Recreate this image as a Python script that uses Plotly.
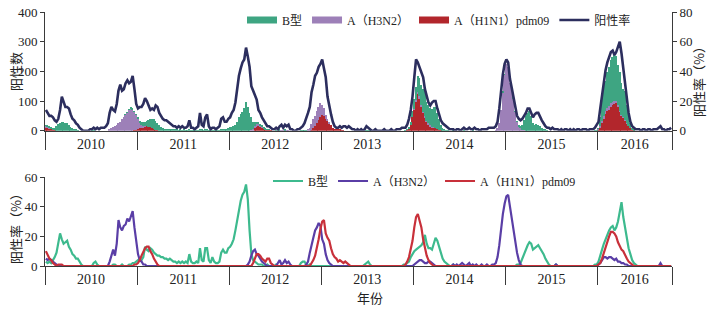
import plotly.graph_objects as go

# ---------------- data (weekly, 2010 week 1 .. 2016 week 42) ----------------
years = ["2010", "2011", "2012", "2013", "2014", "2015", "2016"]
weeks_per_year = [52, 52, 52, 52, 52, 52, 42]

# positive rate (%) - right axis, top panel
pos_rate_rows = [
    "14 12 10 10 9 7 6 8 14 23 20 16 16 15 11 8 7 5 4 2 1 0 0 0 0 1 1 2 1 2 1 2 2 2 3 5 12 16 14 13 18 27 31 27 28 32 34 32 33 37 28 18",
    "15 16 16 18 22 20 17 14 15 14 17 16 12 10 8 7 7 6 5 4 3 3 2 3 2 3 2 2 3 7 2 2 1 2 3 12 4 3 9 11 3 1 2 2 1 2 3 8 9 6 6 8",
    "9 12 14 19 28 37 42 46 48 56 50 43 30 27 23 21 14 12 9 7 5 3 3 2 1 1 2 1 3 4 2 4 3 4 1 1 0 0 1 1 2 3 5 8 12 16 26 31 37 39 43 45",
    "48 42 36 23 16 11 6 3 2 2 3 2 3 3 2 3 2 1 1 0 1 0 1 0 1 3 2 1 0 0 1 0 0 0 0 1 0 0 0 1 0 0 1 1 1 2 2 2 4 8 14 23",
    "36 48 46 43 40 36 28 23 19 17 19 20 20 15 11 7 5 4 3 2 1 1 1 0 1 1 0 1 2 1 1 2 1 1 2 1 1 0 1 1 1 1 2 2 2 2 3 6 15 28 38 45",
    "48 46 35 29 22 14 10 8 7 8 10 12 15 15 12 9 11 12 12 9 7 5 3 2 2 1 2 1 1 1 0 1 0 1 1 0 1 0 1 0 1 1 0 1 1 1 0 1 1 1 2 4",
    "6 15 25 34 41 46 50 53 54 51 53 57 60 52 42 30 20 12 6 3 2 1 1 1 0 1 1 0 1 1 0 1 1 1 2 3 1 1 0 1 1 2",
]

# positive counts (left axis, stacked bars)
b_count_rows = [
    "3 3 3 2 2 8 15 22 27 28 30 26 25 20 12 8 5 3 1 0 0 0 0 0 0 0 1 1 0 0 0 0 0 0 0 0 0 0 0 0 0 0 0 0 0 1 1 2 2 2 3 3",
    "3 5 8 12 15 18 22 28 32 35 30 25 18 12 8 6 5 5 4 4 3 3 3 2 3 2 3 2 2 5 2 2 1 2 2 6 3 2 5 6 2 1 2 2 1 2 2 5 6 5 6 8",
    "12 14 15 18 30 45 55 62 75 98 80 60 42 25 15 8 5 3 2 1 1 1 1 0 0 0 1 0 1 0 0 1 0 0 0 0 0 0 0 0 1 1 1 1 0 0 0 0 0 0 0 0",
    "0 0 0 0 0 0 0 0 0 0 0 0 0 0 0 0 0 0 0 0 0 0 0 0 0 2 2 1 0 0 0 0 0 0 0 0 0 0 0 0 0 0 0 0 0 0 0 1 2 5 10 20",
    "35 45 55 60 70 75 85 65 60 58 60 68 72 55 35 18 10 5 2 1 0 0 1 0 0 0 0 0 1 0 0 0 0 1 0 0 0 0 0 0 0 0 0 0 0 0 0 0 0 0 1 1",
    "0 0 0 0 1 1 2 3 8 15 35 50 60 65 50 25 20 22 20 15 10 6 3 1 0 0 0 0 0 0 0 0 0 0 0 0 0 0 0 0 0 0 0 0 0 0 0 0 0 0 1 2",
    "3 30 80 100 100 120 132 145 153 155 150 136 130 107 95 100 60 44 15 5 2 0 0 0 0 0 0 0 0 0 0 0 0 0 0 0 0 0 0 0 0 0",
]
h3n2_count_rows = [
    "4 3 3 2 1 0 0 0 0 0 0 0 0 0 0 0 0 0 0 0 0 0 0 0 0 0 0 0 0 0 0 0 0 0 0 0 3 8 12 15 20 25 30 40 45 55 62 70 75 72 62 50",
    "35 20 10 5 2 0 0 0 0 0 0 0 0 0 0 0 0 0 0 0 0 0 0 0 0 0 0 0 0 0 0 0 0 0 0 0 0 0 0 0 0 0 0 0 0 0 0 0 0 0 0 0",
    "0 0 0 0 0 0 0 0 0 0 0 0 3 6 8 6 5 3 2 1 0 0 0 0 0 0 0 1 2 1 1 2 1 1 0 0 0 0 0 0 0 0 0 0 3 10 20 30 35 40 45 46",
    "35 25 12 5 2 0 0 0 0 0 0 0 0 0 0 0 0 0 0 0 0 0 0 0 0 0 0 0 0 0 0 0 0 0 0 0 0 0 0 0 0 0 0 0 0 0 0 0 0 0 0 0",
    "2 3 5 6 5 4 3 3 4 3 2 1 0 0 0 0 0 0 0 0 0 0 0 0 0 0 0 0 0 0 0 0 0 0 0 0 0 0 0 0 0 0 0 0 0 0 2 8 25 70 130 190",
    "225 215 160 135 110 65 30 15 8 4 2 0 0 0 0 0 0 0 0 0 0 0 0 0 0 0 0 0 0 0 0 0 0 0 0 0 0 0 0 0 0 0 0 0 0 0 0 0 0 0 0 0",
    "1 3 8 10 12 12 14 12 10 10 8 6 5 4 3 2 1 0 0 0 0 0 0 0 0 0 0 0 0 0 0 0 0 0 0 0 0 0 0 0 0 0",
]
h1n1_count_rows = [
    "12 10 8 6 3 1 0 0 0 0 0 0 0 0 0 0 0 0 0 0 0 0 0 0 0 0 0 0 0 0 0 0 0 0 0 0 0 0 0 0 0 0 0 0 0 0 0 0 0 0 1 3",
    "5 8 10 12 14 15 14 12 8 5 3 1 0 0 0 0 0 0 0 0 0 0 0 0 0 0 0 0 0 0 0 0 0 0 0 0 0 0 0 0 0 0 0 0 0 0 0 0 0 0 0 0",
    "0 0 0 0 0 0 0 0 0 0 0 0 0 0 8 15 18 15 12 8 5 4 3 1 0 0 0 0 0 0 0 0 0 0 0 0 0 0 0 0 0 0 0 0 0 0 3 8 15 25 35 47",
    "53 50 40 35 25 18 10 7 5 4 3 2 1 0 0 0 0 0 0 0 0 0 0 0 0 0 0 0 0 0 0 0 0 0 0 0 0 0 0 0 0 0 0 0 0 0 0 0 3 8 20 45",
    "70 100 125 110 80 60 45 30 22 15 12 10 8 5 3 2 0 0 0 0 0 0 0 0 0 0 0 0 0 0 0 0 0 0 0 0 0 0 0 0 0 0 0 0 0 0 0 0 0 0 0 0",
    "0 0 0 0 0 0 0 0 0 0 0 0 0 0 0 0 0 0 0 0 0 0 0 0 0 0 0 0 0 0 0 0 0 0 0 0 0 0 0 0 0 0 0 0 0 0 0 0 0 0 0 0",
    "5 12 25 40 55 65 70 80 87 90 93 80 63 50 43 33 25 15 10 4 2 0 0 0 0 0 0 0 0 0 0 0 0 0 0 0 0 0 0 0 0 0",
]

# subtype positive rates (%) - bottom panel
b_rate_rows = [
    "3 2 3 2 4 6 9 15 22 18 15 16 17 13 11 8 7 5 5 3 1 0 0 0 0 0 0 2 3 1 0 0 0 0 0 0 0 0 1 1 0 0 0 1 0 0 0 1 1 2 2 3",
    "4 5 4 6 13 11 10 12 11 9 8 7 7 6 6 5 5 4 5 4 3 3 2 3 2 3 2 3 2 8 3 2 2 3 2 12 4 3 12 12 4 2 6 3 2 2 3 9 11 9 9 12",
    "13 15 18 24 31 38 44 48 50 55 45 24 8 4 3 2 1 1 1 0 0 1 0 0 0 0 1 0 0 0 0 0 0 0 0 0 0 0 0 0 2 3 3 1 0 1 0 0 0 0 0 0",
    "0 0 0 0 0 0 0 0 0 0 0 0 0 0 0 0 0 0 0 0 0 0 0 0 1 2 3 1 0 0 0 0 0 0 0 0 0 0 0 0 0 0 0 0 0 0 1 1 2 3 6 8",
    "10 11 12 13 14 16 21 15 12 12 11 15 19 17 13 9 5 3 2 1 0 0 1 0 0 0 0 0 0 0 0 0 0 0 0 0 0 0 0 0 0 0 0 0 0 0 0 0 0 0 0 0",
    "0 0 0 0 0 0 1 1 2 5 9 12 14 16 15 11 12 13 14 12 10 8 5 3 1 0 0 0 1 0 0 0 0 0 0 0 0 0 0 0 0 0 0 0 0 0 0 0 0 0 1 1",
    "3 8 11 15 18 22 24 26 27 24 26 30 38 43 33 25 18 12 8 4 2 1 0 0 0 0 0 0 0 0 0 0 0 0 0 0 0 0 0 0 0 0",
]
h3n2_rate_rows = [
    "5 4 5 4 3 2 1 0 0 0 0 0 0 0 0 0 0 0 0 0 0 0 0 0 0 0 0 0 0 0 0 0 0 0 0 0 3 8 11 7 15 31 26 24 27 28 32 30 34 37 26 15",
    "8 4 3 1 1 0 0 0 0 0 0 0 0 0 0 0 0 0 0 0 0 0 0 0 0 0 0 0 0 0 0 0 0 0 0 0 0 0 0 0 0 0 0 0 0 0 0 0 0 0 0 0",
    "0 0 0 0 0 0 0 0 0 0 1 3 7 10 11 8 7 5 3 2 1 0 0 0 0 0 0 2 4 1 2 4 2 3 1 0 0 0 0 0 0 0 0 1 3 9 15 19 24 26 29 27",
    "18 15 8 4 2 1 0 0 0 0 0 0 0 0 0 0 0 0 0 0 0 0 0 0 0 0 0 0 0 0 0 0 0 0 0 0 0 0 0 0 0 0 0 0 0 0 0 0 0 0 0 0",
    "1 2 3 4 4 3 2 2 3 3 2 1 0 0 0 0 0 0 0 0 0 0 1 0 1 0 1 2 1 0 1 2 0 1 0 1 0 0 1 0 0 1 0 0 1 1 2 6 14 25 35 42",
    "47 48 40 33 27 17 9 4 1 0 0 0 0 0 0 0 0 0 0 0 0 0 0 0 0 0 0 0 1 0 0 0 0 0 0 0 0 0 0 0 0 0 0 0 0 0 0 0 0 0 0 0",
    "1 2 4 6 6 5 6 6 5 4 5 3 3 2 2 1 1 0 0 0 0 0 0 0 0 0 0 0 0 0 0 0 0 0 0 2 0 0 0 0 0 0",
]
h1n1_rate_rows = [
    "10 7 5 4 2 1 0 1 1 1 0 0 0 0 0 0 0 0 0 0 0 0 0 0 0 0 0 0 0 0 0 0 0 0 0 0 0 0 0 0 0 0 0 0 0 0 0 0 0 0 1 1",
    "2 4 7 10 12 13 13 10 8 5 3 1 0 0 0 0 0 0 0 0 0 0 0 0 0 0 0 0 0 0 0 0 0 0 0 0 0 0 0 0 0 0 0 0 0 0 0 0 0 0 0 0",
    "0 0 0 0 0 0 0 0 0 0 0 0 0 2 5 8 8 7 5 4 3 5 5 2 1 0 0 0 0 0 0 0 0 0 0 0 0 0 0 0 0 0 0 0 0 0 2 4 7 12 18 25",
    "30 31 22 19 17 12 8 6 5 3 4 3 2 3 2 1 0 0 0 0 0 0 0 0 0 0 0 0 0 0 0 0 0 0 0 0 0 0 0 0 0 0 0 0 0 0 0 1 3 6 11 17",
    "26 33 35 30 26 18 12 7 4 2 1 0 0 0 0 0 0 0 0 0 0 0 0 0 0 0 0 0 0 0 0 0 0 0 0 0 0 0 0 0 0 0 0 0 0 0 0 0 0 0 0 0",
    "0 0 0 0 0 0 0 0 0 0 0 0 0 0 0 0 0 0 0 0 0 0 0 0 0 0 0 0 0 0 0 0 0 0 0 0 0 0 0 0 0 0 0 0 0 0 0 0 0 0 0 0",
    "1 2 5 9 13 16 20 23 23 22 20 16 13 11 10 7 5 3 2 1 0 0 0 0 0 0 0 0 0 0 0 0 0 0 0 0 0 0 0 0 0 0",
]


def parse(rows, name):
    out = []
    for i, r in enumerate(rows):
        vals = [float(v) for v in r.split()]
        assert len(vals) == weeks_per_year[i], f"{name} year {years[i]} has {len(vals)}"
        out.extend(vals)
    return out


pos_rate = parse(pos_rate_rows, "pos_rate")
b_count = parse(b_count_rows, "b_count")
h3n2_count = parse(h3n2_count_rows, "h3n2_count")
h1n1_count = parse(h1n1_count_rows, "h1n1_count")
b_rate = parse(b_rate_rows, "b_rate")
h3n2_rate = parse(h3n2_rate_rows, "h3n2_rate")
h1n1_rate = parse(h1n1_rate_rows, "h1n1_rate")

n = len(pos_rate)
xw = [i + 0.5 for i in range(n)]
bounds = [0]
for w in weeks_per_year:
    bounds.append(bounds[-1] + w)
mids = [(bounds[i] + bounds[i + 1]) / 2 for i in range(len(years))]

# ---------------- style ----------------
FONT = "Liberation Serif, 'Noto Sans CJK SC', serif"
CJK = "'Noto Sans CJK SC', 'Liberation Serif', sans-serif"
AX = "#3a3a3a"
C_B_BAR, C_H3_BAR, C_H1_BAR = "#3ea582", "#9d80b8", "#b2262c"
C_POS = "#2c2e5e"
C_B_LN, C_H3_LN, C_H1_LN = "#3dba8e", "#5a3ea6", "#c8303a"

W, H = 711, 309
def px_x(p): return p / W
def px_y(p): return 1 - p / H

fig = go.Figure()

# stacked bars: H1N1 at bottom, then H3N2, then B
fig.add_trace(go.Bar(x=xw, y=h1n1_count, marker=dict(color=C_H1_BAR, line=dict(width=0)),
                     showlegend=False, xaxis="x", yaxis="y"))
fig.add_trace(go.Bar(x=xw, y=h3n2_count, marker=dict(color=C_H3_BAR, line=dict(width=0)),
                     showlegend=False, xaxis="x", yaxis="y"))
fig.add_trace(go.Bar(x=xw, y=b_count, marker=dict(color=C_B_BAR, line=dict(width=0)),
                     showlegend=False, xaxis="x", yaxis="y"))

# legend entries for the bars (wide swatches)
for name, col in [("B型", C_B_BAR), ("A（H3N2）", C_H3_BAR), ("A（H1N1）pdm09", C_H1_BAR)]:
    fig.add_trace(go.Scatter(x=[None], y=[None], mode="lines", name=name,
                             line=dict(color=col, width=7), legend="legend",
                             xaxis="x", yaxis="y"))

fig.add_trace(go.Scatter(x=xw, y=pos_rate, mode="lines", name="阳性率",
                         line=dict(color=C_POS, width=2.6), legend="legend",
                         xaxis="x", yaxis="y2"))

# bottom panel lines
for name, vals, col in [("B型", b_rate, C_B_LN), ("A（H3N2）", h3n2_rate, C_H3_LN),
                        ("A（H1N1）pdm09", h1n1_rate, C_H1_LN)]:
    fig.add_trace(go.Scatter(x=xw, y=vals, mode="lines", name=name,
                             line=dict(color=col, width=2.2), legend="legend2",
                             xaxis="x2", yaxis="y3"))

xdom = [px_x(45), px_x(672)]
common_x = dict(
    domain=xdom, range=[0, bounds[-1]], showline=True, linecolor=AX, linewidth=1,
    showgrid=False, zeroline=False, tickmode="array", tickvals=mids, ticktext=years,
    ticks="", tickfont=dict(family=FONT, size=14, color="#222"), automargin=False,
    minor=dict(tickmode="array", tickvals=bounds, ticks="outside", ticklen=18,
               tickcolor=AX, tickwidth=1),
)
common_y = dict(showline=True, linecolor=AX, linewidth=1, showgrid=False, zeroline=False,
                ticks="outside", ticklen=4, tickcolor=AX, automargin=False,
                tickfont=dict(family=FONT, size=13, color="#222"))

TITLE_FONT = dict(family=CJK, size=13, color="#222")

fig.update_layout(
    width=W, height=H, margin=dict(l=0, r=0, t=0, b=0, autoexpand=False),
    paper_bgcolor="white", plot_bgcolor="white",
    barmode="stack", bargap=0.2,
    font=dict(family=FONT, size=13, color="#222"),
    xaxis=dict(**common_x, anchor="y"),
    yaxis=dict(**common_y, domain=[px_y(130.7), px_y(12)], range=[0, 400],
               tickvals=[0, 100, 200, 300, 400], anchor="x"),
    yaxis2=dict(**common_y, overlaying="y", side="right", range=[0, 80],
                tickvals=[0, 20, 40, 60, 80], anchor="x"),
    xaxis2=dict(**common_x, anchor="y3", layer="below traces"),
    yaxis3=dict(**common_y, domain=[px_y(266), px_y(177)], range=[0, 60],
                tickvals=[0, 20, 40, 60], anchor="x2"),
    legend=dict(orientation="h", x=px_x(242), y=px_y(20), xanchor="left", yanchor="middle",
                font=dict(family=FONT, size=12, color="#222"), bgcolor="rgba(0,0,0,0)",
                itemwidth=30, tracegroupgap=0, traceorder="normal"),
    legend2=dict(orientation="h", x=px_x(268), y=px_y(181), xanchor="left", yanchor="middle",
                 font=dict(family=FONT, size=12, color="#222"), bgcolor="rgba(0,0,0,0)",
                 itemwidth=30, tracegroupgap=0, traceorder="normal"),
    annotations=[
        dict(text="阳性数", x=px_x(15), y=px_y(72), xref="paper", yref="paper",
             xanchor="center", yanchor="middle",
             showarrow=False, textangle=-90, font=TITLE_FONT),
        dict(text="阳性率（%）", x=px_x(699), y=px_y(79), xref="paper", yref="paper",
             xanchor="center", yanchor="middle",
             showarrow=False, textangle=-90, font=TITLE_FONT),
        dict(text="阳性率（%）", x=px_x(15), y=px_y(226), xref="paper", yref="paper",
             xanchor="center", yanchor="middle",
             showarrow=False, textangle=-90, font=TITLE_FONT),
        dict(text="年份", x=px_x(370), y=px_y(297), xref="paper", yref="paper",
             xanchor="center", yanchor="middle",
             showarrow=False, font=TITLE_FONT),
    ],
)

fig.write_html("out.html", config={"displayModeBar": False},
               post_script="document.body.style.margin='0';")
